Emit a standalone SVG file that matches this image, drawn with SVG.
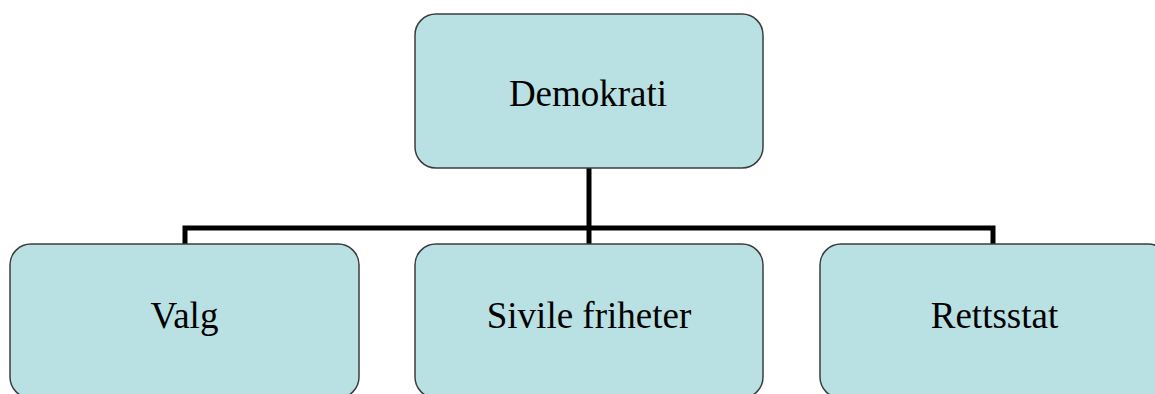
<svg xmlns="http://www.w3.org/2000/svg" width="1155" height="394" viewBox="0 0 1155 394">
<style>
.box{fill:#b9e0e3;stroke:#3c3c3c;stroke-width:1.5}
.lbl{font-family:"Liberation Serif","Times New Roman",serif;font-size:37px;fill:#000;text-anchor:middle}
.conn{fill:none;stroke:#000;stroke-width:5;stroke-linejoin:miter;stroke-linecap:butt}
</style>
<rect width="1155" height="394" fill="#fff"/>
<g id="connectors">
<path class="conn" d="M589,167 V244"/>
<path class="conn" d="M185,244 V228 H993 V244"/>
</g>
<g id="node-demokrati">
<rect class="box" x="415" y="14" width="348" height="154" rx="21" ry="21"/>
<text class="lbl" x="588" y="106">Demokrati</text>
</g>
<g id="node-valg">
<rect class="box" x="10" y="244" width="349" height="154" rx="21" ry="21"/>
<text class="lbl" x="184.5" y="328">Valg</text>
</g>
<g id="node-sivile">
<rect class="box" x="415" y="244" width="348" height="154" rx="21" ry="21"/>
<text class="lbl" x="589" y="328">Sivile friheter</text>
</g>
<g id="node-rettsstat">
<rect class="box" x="820" y="244" width="349" height="154" rx="21" ry="21"/>
<text class="lbl" x="994.5" y="328">Rettsstat</text>
</g>
</svg>
